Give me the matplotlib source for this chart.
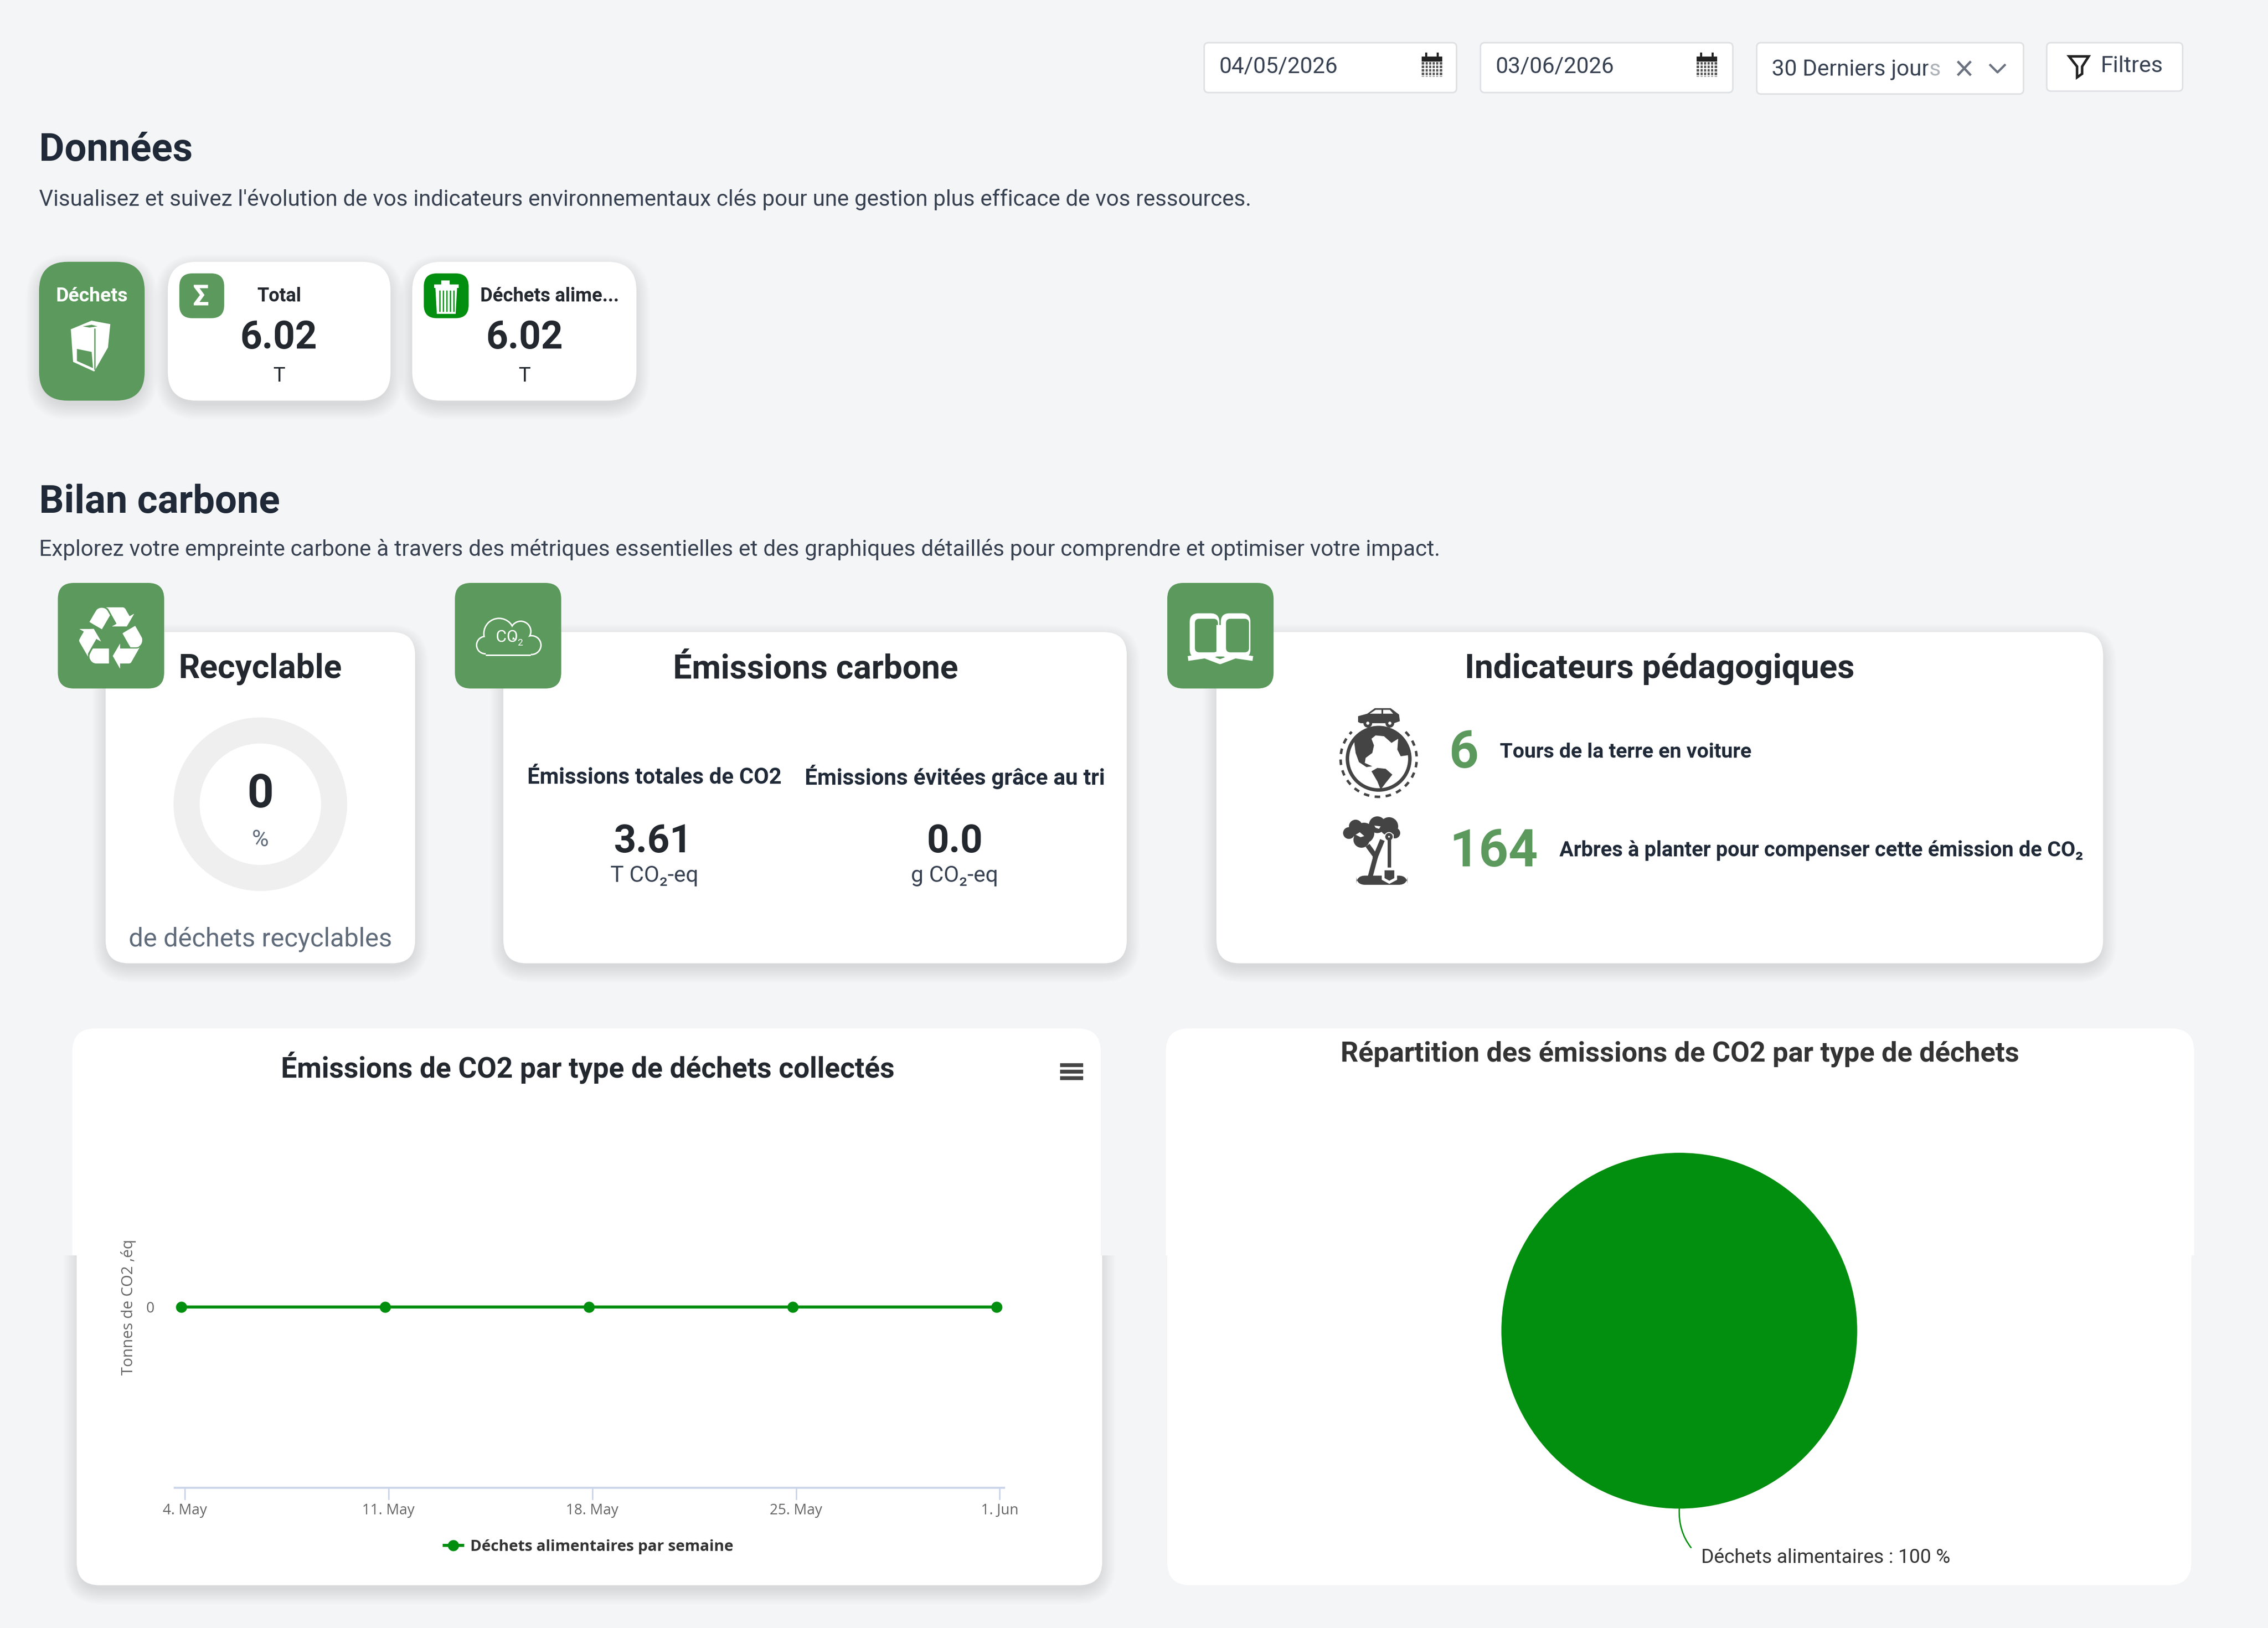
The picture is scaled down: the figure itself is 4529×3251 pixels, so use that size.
import numpy as np
import matplotlib
matplotlib.use('Agg')
import matplotlib.pyplot as plt
from matplotlib.patches import FancyBboxPatch, Circle, Polygon, Rectangle, PathPatch
from matplotlib.textpath import TextPath
from matplotlib.font_manager import FontProperties
from matplotlib.transforms import Affine2D

# data
week_days = [0, 7, 14, 21, 28]
week_labels = ['4. May', '11. May', '18. May', '25. May', '1. Jun']
emissions_semaine = [0, 0, 0, 0, 0]
pie_labels = ['Déchets alimentaires : 100 %']
pie_values = [100]
recyclable_pct = [100]
date_debut = '04/05/2026'
date_fin = '03/06/2026'
periode = '30 Derniers jours'
dechets_total = '6.02'
dechets_alim = '6.02'
co2_total = '3.61'
co2_evite = '0.0'
tours_terre = '6'
arbres = '164'

BG = '#F4F5F7'
GREEN = '#5B995C'
VIVID = '#028E0F'
DARK = '#23272E'
NAVY = '#1F2937'
ICON = '#444444'

W, H = 1568, 3251 / (4529 / 1568)
FS = 4529 / 1568 * 0.72   # points for one unit of the layout

plt.rcParams['font.family'] = ['Roboto', 'Noto Sans', 'DejaVu Sans']

fig = plt.figure(figsize=(45.29, 32.51), dpi=100, facecolor=BG)
ax = fig.add_axes([0, 0, 1, 1])
ax.set_xlim(0, W)
ax.set_ylim(H, 0)
ax.axis('off')


def subaxes(x0, y0, x1, y1):
    a = fig.add_axes([x0 / W, 1 - y1 / H, (x1 - x0) / W, (y1 - y0) / H])
    a.patch.set_alpha(0)
    return a


def txt(x, y, s, size, weight='normal', color=DARK, ha='left', family=None):
    kw = {}
    if family:
        kw['family'] = family
    return ax.text(x, y + 0.07 * size, s, fontsize=size * FS, fontweight=weight, color=color,
                   ha=ha, va='center', zorder=10, **kw)


def rbox(x0, y0, x1, y1, r, fc, ec='none', lw=0, z=3, clip=None):
    p = FancyBboxPatch((x0 + r, y0 + r), x1 - x0 - 2 * r, y1 - y0 - 2 * r,
                       boxstyle='round,pad=%f,rounding_size=%f' % (r, r),
                       fc=fc, ec=ec, lw=lw, zorder=z, mutation_aspect=1)
    ax.add_patch(p)
    if clip is not None:
        p.set_clip_path(Rectangle((clip[0], clip[1]), clip[2] - clip[0], clip[3] - clip[1],
                                  transform=ax.transData))
    return p


def card(x0, y0, x1, y1, r=16, fc='white', clip=None, shadow=True):
    if shadow:
        for i in range(1, 15):
            g = i * 0.8
            rbox(x0 - g + 2, y0 - g + 6, x1 + g - 2, y1 + g + 2, r + g, '#1a2030', z=2, clip=clip).set_alpha(0.006)
    return rbox(x0, y0, x1, y1, r, fc, z=3, clip=clip)


def glyph(ch, cx, cy, size, color, z=6, prop=None):
    tp = TextPath((0, 0), ch, size=size, prop=prop)
    b = tp.get_extents()
    tr = Affine2D().translate(-(b.x0 + b.x1) / 2, -(b.y0 + b.y1) / 2).scale(1, -1).translate(cx, cy)
    ax.add_patch(PathPatch(tr.transform_path(tp), fc=color, ec='none', zorder=z))


# ---- filtres en haut
for x0, x1, y1 in [(832.5, 1007, 64), (1023.5, 1198, 64), (1214.5, 1399, 65), (1415, 1509, 63)]:
    rbox(x0, 29.5, x1, y1, 3, 'white', ec='#DEE1E4', lw=2.2)
txt(843, 45, date_debut, 15.4, color='#374151')
txt(1034, 45, date_fin, 15.4, color='#374151')
txt(1225, 47, periode, 15.5, color='#374151')
ax.add_patch(Rectangle((1333, 38), 9, 20, fc='white', alpha=0.6, ec='none', zorder=11))
txt(1452, 44.5, 'Filtres', 15.7, color='#374151')

for cx in [990, 1180]:
    ax.add_patch(Rectangle((cx - 7, 39), 14, 3.5, fc='#222222', zorder=6))
    ax.add_patch(Rectangle((cx - 7, 43), 14, 10, fc='#555555', zorder=6))
    for gx in np.arange(cx - 5, cx + 7, 2.4):
        ax.plot([gx, gx], [43, 53], color='white', lw=2, zorder=7)
    for gy in np.arange(45, 53, 2.4):
        ax.plot([cx - 7, cx + 7], [gy, gy], color='white', lw=1.6, zorder=7)
    ax.plot([cx - 4, cx - 4], [37, 39], color='#222222', lw=3, zorder=7)
    ax.plot([cx + 4, cx + 4], [37, 39], color='#222222', lw=3, zorder=7)

ax.plot([1354, 1362], [43, 51.5], color='#6B7280', lw=3.4, zorder=12)
ax.plot([1362, 1354], [43, 51.5], color='#6B7280', lw=3.4, zorder=12)
ax.plot([1376, 1381, 1386], [45, 50, 45], color='#6B7280', lw=3.2, zorder=6)
ax.add_patch(Polygon([(1430.5, 39), (1444, 39), (1439.5, 46), (1439.5, 51), (1436, 53.5), (1436, 46)],
                     closed=True, fc='white', ec='#222222', lw=3.6, zorder=6))

# ---- section Données
txt(27, 102, 'Données', 27, 'bold', NAVY)
txt(27, 137, "Visualisez et suivez l'évolution de vos indicateurs environnementaux clés pour une gestion plus efficace de vos ressources.",
    15.35, color='#374151')

card(27, 181, 100, 277, 20, fc=GREEN)
card(116, 181, 270, 277, 20)
card(285, 181, 440, 277, 20)
txt(63.5, 204, 'Déchets', 13.6, 'bold', 'white', ha='center')
rbox(124, 189, 155, 220, 9, GREEN, z=5)
rbox(293, 189, 324, 220, 9, VIVID, z=5)
glyph('Σ', 139, 204, 20, 'white', prop=FontProperties(family='Roboto', weight='bold'))
txt(193, 204, 'Total', 13.2, 'bold', ha='center')
txt(332, 204, 'Déchets alime...', 13.2, 'bold')
txt(192.5, 232, dechets_total, 26.5, 'bold', ha='center')
txt(362.5, 232, dechets_alim, 26.5, 'bold', ha='center')
txt(193, 259, 'T', 14, ha='center')
txt(362.5, 259, 'T', 14, ha='center')


def z1(pts):
    return [(x * 1400 / 1568 / 2.888, (480 + y / 3) / 2.888) for x, y in pts]


# carton de déchets
ax.add_patch(Polygon(z1([(160, 535), (205, 485), (245, 505), (240, 640), (210, 780), (165, 725)]),
                     closed=True, fc='white', ec='white', lw=2, zorder=6))
ax.add_patch(Polygon(z1([(172, 650), (205, 668), (208, 765), (172, 722)]),
                     closed=True, fc=GREEN, zorder=7))
ax.plot(*zip(*z1([(212, 530), (212, 770)])), color=GREEN, lw=1.8, zorder=7)
ax.add_patch(Polygon(z1([(185, 515), (205, 505), (218, 515), (200, 522)]), closed=True, fc=GREEN, zorder=7))

# poubelle
ax.add_patch(Polygon([(301, 199), (316, 199), (315, 217), (302, 217)], closed=True, fc='white', zorder=6))
ax.add_patch(Rectangle((300, 196.5), 17, 2.6, fc='white', zorder=6))
ax.add_patch(Rectangle((305, 194), 6, 2.6, fc='white', zorder=6))
for gx in np.arange(304, 315, 2.4):
    ax.plot([gx, gx], [201, 215], color=VIVID, lw=1.8, zorder=7)

# ---- section Bilan carbone
txt(27, 345, 'Bilan carbone', 27, 'bold', NAVY)
txt(27, 379, 'Explorez votre empreinte carbone à travers des métriques essentielles et des graphiques détaillés pour comprendre et optimiser votre impact.',
    15.4, color='#374151')

card(73, 437, 287, 666)
card(348, 437, 779, 666)
card(841, 437, 1454, 666)
for x0 in [40, 314.5, 807]:
    rbox(x0, 403, x0 + 73.5, 476, 11, GREEN, z=5)

glyph('♻', 76.5, 441, 60, 'white', prop=FontProperties(family='DejaVu Sans'))

# nuage CO2
for grow, col, z in [(0, 'white', 6), (-1, GREEN, 7)]:
    for cx, cy, r in [(345, 438, 11), (360, 436.5, 7.5), (335.5, 446, 6.5), (367.5, 446, 7)]:
        ax.add_patch(Circle((cx, cy), r + grow, fc=col, ec='none', zorder=z))
    ax.add_patch(Rectangle((336, 441 - grow), 31, 12.4 + 2 * grow, fc=col, zorder=z))
txt(350.5, 440, 'CO', 11.5, color='white', ha='center')
txt(359.5, 444, '2', 6.5, color='white', ha='center')

# livre
for x0, x1 in [(822.5, 843), (844, 864.5)]:
    rbox(x0, 424, x1, 455, 6, 'white', z=6)
    rbox(x0 + 3.6, 427.8, x1 - 1, 451, 3, GREEN, z=7)
ax.add_patch(Rectangle((841, 432), 5, 22, fc='white', zorder=8))
ax.plot([823, 833, 843.5, 854, 864.5], [455, 453.5, 457.5, 453.5, 455], color='white', lw=7, zorder=8)

# Recyclable
txt(180, 461, 'Recyclable', 23.1, 'bold', ha='center')
ax_donut = subaxes(120, 496, 240, 616)
ax_donut.pie(recyclable_pct, colors=['#EFEFEF'], radius=1.0, wedgeprops=dict(width=0.3))
ax_donut.set_xlim(-1, 1)
ax_donut.set_ylim(-1, 1)
txt(180, 547, '0', 32, 'bold', ha='center')
txt(180, 579.5, '%', 16, color='#5F6B7A', ha='center')
txt(180, 648, 'de déchets recyclables', 17.9, color='#5F6B7A', ha='center')

# Émissions carbone
txt(564, 461, 'Émissions carbone', 23.1, 'bold', ha='center')
txt(452.5, 536.5, 'Émissions totales de CO2', 15.3, 'bold', NAVY, ha='center')
txt(660, 536, 'Émissions évitées grâce au tri', 15.4, 'bold', NAVY, ha='center')
txt(451.5, 580, co2_total, 27, 'bold', ha='center')
txt(660, 580, co2_evite, 27, 'bold', ha='center')
txt(452.5, 604.5, 'T CO₂-eq', 15.5, color='#374151', ha='center')
txt(660, 604.5, 'g CO₂-eq', 15.5, color='#374151', ha='center')

# Indicateurs pédagogiques
txt(1147.5, 461, 'Indicateurs pédagogiques', 23.1, 'bold', ha='center')
txt(1002, 518.5, tours_terre, 35.6, 'bold', GREEN)
txt(1037, 519, 'Tours de la terre en voiture', 14.3, 'bold', NAVY)
txt(1002, 586.5, arbres, 35.6, 'bold', GREEN)
txt(1078, 587, 'Arbres à planter pour compenser cette émission de CO₂', 14.5, 'bold', NAVY)


def z7(pts):
    return [((2650 + x / 3) / 2.888, (1400 + y / 3) / 2.888) for x, y in pts]


def poly7(pts, fc=ICON, z=6):
    ax.add_patch(Polygon(z7(pts), closed=True, fc=fc, ec='none', zorder=z))


def circ7(x, y, r, fc=ICON, ec='none', lw=0, z=6):
    c = z7([(x, y)])[0]
    ax.add_patch(Circle(c, r / 3 / 2.888, fc=fc, ec=ec, lw=lw, zorder=z))


# terre et voiture
circ7(308, 345, 187, fc='white', ec=ICON, lw=5)
poly7([(160, 230), (200, 185), (260, 160), (320, 152), (380, 165), (440, 205), (480, 260), (495, 322),
       (440, 330), (420, 290), (425, 225), (385, 250), (340, 210), (290, 205), (265, 225), (280, 265),
       (270, 310), (230, 340), (225, 370), (270, 390), (235, 395), (190, 365), (170, 310)], z=7)
poly7([(265, 420), (300, 400), (350, 405), (390, 440), (350, 490), (320, 530), (300, 480)], z=7)
theta = np.radians(np.arange(45, 316, 2))
ring = z7(np.column_stack([308 + 228 * np.sin(theta), 345 - 228 * np.cos(theta)]))
ax.plot(*zip(*ring), color=ICON, lw=3.6, ls=(0, (2.2, 2.2)), zorder=6)
poly7([(185, 90), (240, 75), (285, 42), (380, 42), (430, 80), (435, 120), (400, 132), (200, 132), (185, 125)])
poly7([(255, 75), (290, 52), (325, 52), (325, 75)], fc='white', z=7)
poly7([(335, 75), (335, 52), (375, 52), (395, 75)], fc='white', z=7)
circ7(243, 132, 18, fc='white', ec=ICON, lw=4, z=7)
circ7(375, 132, 18, fc='white', ec=ICON, lw=4, z=7)

# arbre et pelle
for x, y, r in [(130, 790, 35), (170, 750, 40), (220, 790, 62), (300, 740, 50), (370, 750, 55),
                (405, 790, 32), (205, 830, 48)]:
    circ7(x, y, r)
poly7([(170, 800), (195, 785), (222, 808), (200, 815)], fc='white', z=7)
poly7([(282, 745), (320, 750), (310, 765), (290, 758)], fc='white', z=7)
for seg in [[(258, 1050), (290, 930), (250, 875)], [(290, 930), (325, 845)]]:
    ax.plot(*zip(*z7(seg)), color=ICON, lw=7, zorder=6)
rbox(*z7([(175, 1045)])[0], *z7([(480, 1100)])[0], 6, ICON, z=6)
ax.plot(*zip(*z7([(370, 825), (370, 1010)])), color='white', lw=13, zorder=7)
ax.plot(*zip(*z7([(370, 825), (370, 1010)])), color=ICON, lw=5, zorder=8)
circ7(370, 812, 28, fc='white', z=7)
circ7(370, 812, 14, fc='white', ec=ICON, lw=4, z=8)
ax.add_patch(Polygon(z7([(335, 1005), (410, 1005), (410, 1065), (372, 1085), (335, 1065)]),
                     closed=True, fc=ICON, ec='white', lw=4, zorder=8))

# ---- carte émissions par type (deux morceaux décalés comme sur la capture)
card(50, 711, 761, 1000, 16, clip=(0, 700, 1568, 868), shadow=False)
card(53, 700, 762, 1096, 16, clip=(0, 868, 1568, 1125))
txt(406.5, 736.5, 'Émissions de CO2 par type de déchets collectés', 19.7, 'bold', ha='center')
for hy in [736.5, 741, 745.5]:
    ax.plot([733, 749], [hy, hy], color='#444444', lw=5.5, zorder=6, solid_capstyle='butt')

ax_line = subaxes(121, 778.7, 694, 1028.7)
ax_line.plot(week_days, emissions_semaine, color=VIVID, lw=4.4, marker='o', ms=15, zorder=5, clip_on=False,
             label='Déchets alimentaires par semaine')
px = 28 / (689 - 125.5)
ax_line.set_xlim(-4.5 * px, 28 + 5 * px)
ax_line.set_ylim(-1, 1)
for s in ['top', 'left', 'right']:
    ax_line.spines[s].set_visible(False)
ax_line.spines['bottom'].set_color('#CCD6EB')
ax_line.spines['bottom'].set_linewidth(3)
ax_line.set_xticks([d + 2.2 * px for d in week_days])
ax_line.set_xticklabels(week_labels, family='Open Sans', fontsize=10 * FS, color='#666666')
ax_line.tick_params(axis='x', color='#CCD6EB', width=2.2, length=17, pad=5)
ax_line.set_yticks([0])
ax_line.set_yticklabels(['0'], family='Open Sans', fontsize=10 * FS, color='#666666')
ax_line.tick_params(axis='y', length=0, pad=30)
ax_line.set_ylabel('Tonnes de CO2 ,éq', family='Open Sans', fontsize=10.7 * FS, color='#666666')
ax_line.yaxis.set_label_coords(-0.0471, 0.5)
leg = ax_line.legend(loc='center', bbox_to_anchor=((407 - 121) / 573, (1028.7 - 1069.5) / 250),
                     frameon=False, handlelength=1.2, handletextpad=0.5, markerscale=1.0,
                     prop=FontProperties(family='Open Sans', weight='bold', size=10.7 * FS))
for t in leg.get_texts():
    t.set_color('#333333')

# ---- carte répartition
card(806, 711, 1517, 1000, 16, clip=(0, 700, 1568, 868), shadow=False)
card(807, 700, 1515, 1096, 16, clip=(0, 868, 1568, 1125), shadow=False)
txt(1161.5, 727.5, 'Répartition des émissions de CO2 par type de déchets', 19.3, 'bold', '#333333', ha='center')

ax_pie = subaxes(1038, 797, 1284, 1043)
ax_pie.pie(pie_values, colors=[VIVID], radius=1.0, startangle=90)
ax_pie.set_xlim(-1, 1)
ax_pie.set_ylim(-1, 1)
ax_pie.annotate(pie_labels[0], xy=(0, -1), xytext=((1176 - 1161) / 123, -(1077 - 920) / 123),
                fontsize=13.5 * FS, color='#333333', ha='left', va='center', annotation_clip=False,
                arrowprops=dict(arrowstyle='-', color=VIVID, lw=2, relpos=(0, 0.5), shrinkA=18, shrinkB=0,
                                connectionstyle='arc3,rad=-0.25'))

fig.savefig('out.png', dpi=100, facecolor=BG)
